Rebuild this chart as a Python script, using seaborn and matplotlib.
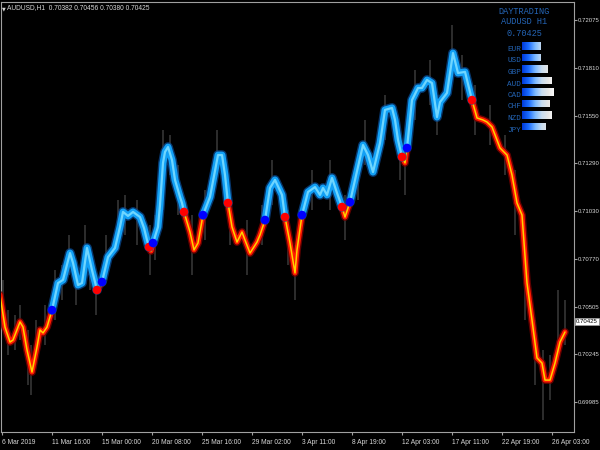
import numpy as np
import pandas as pd
import matplotlib
matplotlib.use("Agg")
import matplotlib.pyplot as plt
import seaborn as sns
from matplotlib import font_manager
from matplotlib.colors import LinearSegmentedColormap
import matplotlib.transforms as mtransforms

# ---------------- data ----------------
bar_index = [0, 5, 10, 13, 20, 23, 27, 32, 37, 40, 43, 47, 52, 58, 63, 70, 73, 78, 82, 87,
             92, 97, 102, 108, 115, 120, 123, 128, 133, 140, 144, 147, 149, 151, 153, 158,
             160, 163, 165, 168, 172, 175, 180, 182, 184, 190, 194, 198, 203, 210, 218, 222,
             225, 228, 232, 237, 242, 245, 250, 257, 260, 265, 270, 275, 282, 285, 290, 295,
             297, 302, 308, 315, 320, 323, 327, 332, 337, 342, 345, 350, 355, 363, 368, 373,
             380, 385, 392, 395, 398, 402, 405, 407, 412, 418, 422, 427, 432, 437, 440, 447,
             453, 458, 465, 472, 477, 483, 487, 492, 500, 507, 512, 517, 522, 527, 532, 537,
             542, 545, 550, 555, 560, 565]
ma_price = [0.70571, 0.70395, 0.70313, 0.70324, 0.70423, 0.70395, 0.70270, 0.70149, 0.70286,
            0.70379, 0.70363, 0.70395, 0.70488, 0.70636, 0.70653, 0.70800, 0.70746, 0.70625,
            0.70636, 0.70828, 0.70707, 0.70598, 0.70642, 0.70778, 0.70828, 0.70943, 0.71025,
            0.71003, 0.71025, 0.70997, 0.70937, 0.70871, 0.70833, 0.70811, 0.70855, 0.70943,
            0.71063, 0.71293, 0.71353, 0.71380, 0.71309, 0.71200, 0.71107, 0.71074, 0.71025,
            0.70915, 0.70817, 0.70855, 0.71008, 0.71107, 0.71336, 0.71336, 0.71227, 0.71074,
            0.70943, 0.70860, 0.70915, 0.70871, 0.70800, 0.70860, 0.70899, 0.70981, 0.71156,
            0.71200, 0.71118, 0.70997, 0.70855, 0.70691, 0.70817, 0.71008, 0.71134, 0.71161,
            0.71118, 0.71156, 0.71118, 0.71211, 0.71129, 0.71052, 0.70997, 0.71079, 0.71200,
            0.71391, 0.71336, 0.71243, 0.71402, 0.71583, 0.71594, 0.71528, 0.71419, 0.71326,
            0.71293, 0.71375, 0.71637, 0.71703, 0.71703, 0.71747, 0.71730, 0.71544, 0.71626,
            0.71676, 0.71894, 0.71785, 0.71791, 0.71637, 0.71539, 0.71528, 0.71517, 0.71490,
            0.71375, 0.71336, 0.71227, 0.71074, 0.71008, 0.70636, 0.70434, 0.70226, 0.70198,
            0.70105, 0.70105, 0.70198, 0.70313, 0.70368]

trend_start = [0, 52, 97, 102, 149, 153, 184, 203, 228, 265, 285, 302, 342, 350, 402, 407, 472]
trend_dir = ["down", "up", "down", "up", "down", "up", "down", "up", "down", "up",
             "down", "up", "down", "up", "down", "up", "down"]

wick_x = [3, 8, 15, 20, 28, 31, 36, 45, 55, 62, 69, 76, 85, 90, 96, 106, 118, 125, 137, 150,
          155, 163, 170, 178, 192, 205, 217, 230, 247, 262, 272, 288, 295, 312, 330, 345, 358,
          365, 385, 400, 405, 415, 430, 437, 452, 462, 475, 490, 505, 515, 525, 535, 543, 550,
          558, 565]
wick_high = [0.70653, 0.70488, 0.70461, 0.70516, 0.70379, 0.70297, 0.70434, 0.70516, 0.70707,
             0.70734, 0.70899, 0.70762, 0.70953, 0.70817, 0.70680, 0.70899, 0.71090, 0.71118,
             0.71090, 0.70953, 0.71008, 0.71473, 0.71446, 0.71282, 0.71008, 0.71145, 0.71473,
             0.71090, 0.70981, 0.71063, 0.71309, 0.71036, 0.70844, 0.71254, 0.71309, 0.71118,
             0.71309, 0.71528, 0.71665, 0.71446, 0.71391, 0.71801, 0.71856, 0.71665, 0.72048,
             0.71884, 0.71719, 0.71610, 0.71446, 0.71254, 0.70899, 0.70434, 0.70270, 0.70242,
             0.70598, 0.70543]
wick_low = [0.70379, 0.70242, 0.70270, 0.70324, 0.70078, 0.70023, 0.70188, 0.70297, 0.70434,
            0.70543, 0.70680, 0.70516, 0.70653, 0.70598, 0.70461, 0.70653, 0.70817, 0.70899,
            0.70844, 0.70680, 0.70762, 0.71036, 0.71227, 0.71008, 0.70680, 0.70871, 0.71227,
            0.70844, 0.70680, 0.70844, 0.71063, 0.70734, 0.70543, 0.71036, 0.71036, 0.70871,
            0.71090, 0.71282, 0.71419, 0.71200, 0.71118, 0.71528, 0.71610, 0.71446, 0.71747,
            0.71637, 0.71446, 0.71391, 0.71227, 0.70899, 0.70434, 0.70078, 0.69887, 0.69996,
            0.70215, 0.70297]

y_ticks = [0.72075, 0.71810, 0.71550, 0.71290, 0.71030, 0.70770, 0.70505, 0.70245, 0.69985]
x_tick_pos = [2, 52, 102, 152, 202, 252, 302, 352, 402, 452, 502, 552]
x_tick_labels = ["6 Mar 2019", "11 Mar 16:00", "15 Mar 00:00", "20 Mar 08:00",
                 "25 Mar 16:00", "29 Mar 02:00", "3 Apr 11:00", "8 Apr 19:00",
                 "12 Apr 03:00", "17 Apr 11:00", "22 Apr 19:00", "26 Apr 03:00"]

symbol = "AUDUSD,H1"
ohlc = [0.70382, 0.70456, 0.70380, 0.70425]
last_price = 0.70425
panel_title = ["DAYTRADING", "AUDUSD H1", "0.70425"]
currencies = ["EUR", "USD", "GBP", "AUD", "CAD", "CHF", "NZD", "JPY"]
strength = [19, 19, 26, 30, 32, 28, 30, 24]

# ---------------- fonts ----------------
names = {f.name for f in font_manager.fontManager.ttflist}
narrow = "Liberation Sans Narrow" if "Liberation Sans Narrow" in names else "Liberation Sans"
mono = "Liberation Mono" if "Liberation Mono" in names else "DejaVu Sans Mono"
plt.rcParams["font.family"] = [narrow, "DejaVu Sans"]

# ---------------- figure ----------------
fig = plt.figure(figsize=(6, 4.5), dpi=100, facecolor="black")
ax = fig.add_axes([1 / 600, 18 / 450, 573 / 600, 430 / 450])
ax.set_facecolor("black")

# price wicks (background)
ax.vlines(wick_x, wick_low, wick_high, colors="#3a3a3a", lw=1.1, zorder=1)

# segmented trend line
df = pd.DataFrame({"x": bar_index, "price": ma_price})
rows = []
for i, (s, d) in enumerate(zip(trend_start, trend_dir)):
    e = trend_start[i + 1] if i + 1 < len(trend_start) else bar_index[-1]
    sub = df[(df.x >= s) & (df.x <= e)].copy()
    sub["seg"] = i
    sub["dir"] = d
    rows.append(sub)
seg_df = pd.concat(rows, ignore_index=True)
up_df = seg_df[seg_df.dir == "up"]
dn_df = seg_df[seg_df.dir == "down"]

layers_up = [(7.0, "#0a4f9c", 0.7), (5.0, "#12a0f5", 1.0), (1.6, "#6fd6ff", 1.0)]
layers_dn = [(5.6, "#7a0000", 0.8), (3.6, "#ff1a00", 1.0), (1.1, "#ffd200", 1.0)]
for lw, c, a in layers_dn:
    sns.lineplot(data=dn_df, x="x", y="price", units="seg", estimator=None, sort=False,
                 color=c, lw=lw, alpha=a, ax=ax, zorder=3,
                 solid_capstyle="round", solid_joinstyle="round")
for lw, c, a in layers_up:
    sns.lineplot(data=up_df, x="x", y="price", units="seg", estimator=None, sort=False,
                 color=c, lw=lw, alpha=a, ax=ax, zorder=4,
                 solid_capstyle="round", solid_joinstyle="round")

# signal dots
dots = pd.DataFrame({"x": trend_start[1:], "dir": trend_dir[1:]})
dots["price"] = [ma_price[bar_index.index(v)] for v in trend_start[1:]]
sns.scatterplot(data=dots, x="x", y="price", hue="dir",
                palette={"up": "#0000ff", "down": "#ff0000"}, s=38, linewidth=0,
                legend=False, ax=ax, zorder=6)

# axes styling
ax.set_xlim(1, 574)
ax.set_ylim(0.698209, 0.721735)
ax.set_xlabel("")
ax.set_ylabel("")
ax.grid(False)
for sp in ax.spines.values():
    sp.set_color("#a0a0a0")
    sp.set_linewidth(0.8)
ax.yaxis.tick_right()
ax.set_yticks(y_ticks)
ax.set_yticklabels([f"{v:.5f}" for v in y_ticks])
ax.set_xticks(x_tick_pos)
ax.set_xticklabels(x_tick_labels)
ax.tick_params(axis="both", colors="#a0a0a0", labelcolor="#d8d8d8", labelsize=4.8,
               length=2.5, width=0.8, pad=1.2)
ax.tick_params(axis="y", labelsize=4.3, length=2, pad=0.6)
ax.tick_params(axis="x", pad=2.5)
for lab in ax.get_xticklabels():
    lab.set_ha("left")

# current price box
trans = mtransforms.blended_transform_factory(ax.transAxes, ax.transData)
ax.text(1.0038, last_price, f"{last_price:.5f}", transform=trans, ha="left", va="center",
        fontsize=4.3, color="black",
        bbox=dict(boxstyle="square,pad=0.18", fc="white", ec="#a0a0a0", lw=0.5),
        zorder=10, clip_on=False)

# ---------------- overlay (pixel coords) ----------------
ov = fig.add_axes([0, 0, 1, 1], facecolor="none")
ov.set_xlim(0, 600)
ov.set_ylim(450, 0)
ov.axis("off")

ov.text(2, 8.5, "\u25bc", fontsize=3.5, color="#d8d8d8", ha="left", va="center",
        family="DejaVu Sans")
ov.text(7, 8, symbol + "  " + " ".join(f"{v:.5f}" for v in ohlc), fontsize=4.8,
        color="#d8d8d8", ha="left", va="center")

panel_col = "#2464b4"
for txt, yy in zip(panel_title, [11, 22, 33]):
    ov.text(524, yy, txt, fontsize=6.2, color=panel_col, ha="center", va="center",
            family=mono)

label_y = [49.5, 61, 72.5, 84, 95.5, 107, 118.5, 130]
for cur, yy in zip(currencies, label_y):
    ov.text(521, yy, cur, fontsize=5.5, color=panel_col, ha="right", va="center",
            family=mono)

grad_cmap = LinearSegmentedColormap.from_list(
    "strength", ["#0038d8", "#1a6cff", "#7ab8ff", "#c8dcf0", "#e6e6e6", "#ffffff"])
grad = np.linspace(0, 1, 256).reshape(1, -1)
bar_y = [v - 3.5 for v in label_y]
bars = ov.barh(bar_y, strength, left=522, height=7.5, color="none", edgecolor="none")
for b in bars:
    y0 = b.get_y()
    im = ov.imshow(grad, cmap=grad_cmap, aspect="auto",
                   extent=[522, 555, y0 + b.get_height(), y0], zorder=5)
    im.set_clip_path(b)
ov.set_xlim(0, 600)
ov.set_ylim(450, 0)

fig.savefig("out.png", dpi=100, facecolor="black")
